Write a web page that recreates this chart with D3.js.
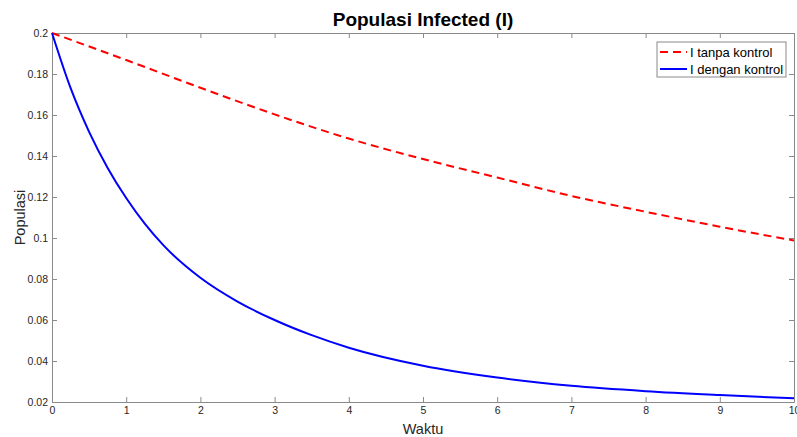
<!DOCTYPE html>
<meta charset="utf-8">
<script src="https://d3js.org/d3.v7.min.js"></script>
<style>
body { margin: 0; background: white; }
svg text { font-family: "Liberation Sans", Arial, sans-serif; }
.ax path, .ax line { stroke: #8a8a8a; }
.ax text { fill: #262626; font-size: 10.5px; }
</style>
<body>
<svg width="797" height="437" id="svg"></svg>
<script>
// data
var waktuTanpa = [0, 1, 2, 3, 4, 5, 6, 7, 8, 9, 10];
var iTanpa = [0.2, 0.1868, 0.1733, 0.1603, 0.1485, 0.1385, 0.1295, 0.1205, 0.1128, 0.1055, 0.0988];

var waktuDengan = [0, 0.25, 0.5, 0.75, 1, 1.25, 1.5, 2, 2.5, 3, 3.5, 4, 5, 6, 7, 8, 9, 10];
var iDengan = [0.2, 0.1732, 0.1518, 0.1342, 0.1195, 0.1070, 0.0965, 0.0806, 0.0690, 0.0600, 0.0526, 0.0465, 0.0377, 0.0319, 0.0279, 0.0253, 0.0234, 0.0218];

var xTicks = [0, 1, 2, 3, 4, 5, 6, 7, 8, 9, 10];
var yTicks = [0.02, 0.04, 0.06, 0.08, 0.1, 0.12, 0.14, 0.16, 0.18, 0.2];
var seriesNames = ["I tanpa kontrol", "I dengan kontrol"];

let svg = d3.select("#svg");
let margin = { top: 33, right: 3, bottom: 35, left: 52 };
let width = 797 - margin.left - margin.right;
let height = 437 - margin.top - margin.bottom;

let g = svg.append("g")
    .attr("transform", "translate(" + margin.left + "," + margin.top + ")");

let x = d3.scaleLinear().domain([0, 10]).range([0, width]);
let y = d3.scaleLinear().domain([0.02, 0.2]).range([height, 0]);

g.append("g").attr("class", "ax")
    .attr("transform", "translate(0," + height + ")")
    .call(d3.axisBottom(x).tickValues(xTicks).tickFormat(d3.format("d"))
        .tickSizeInner(-5).tickSizeOuter(0).tickPadding(5));
g.append("g").attr("class", "ax")
    .call(d3.axisTop(x).tickValues(xTicks).tickFormat("")
        .tickSizeInner(-5).tickSizeOuter(0));
g.append("g").attr("class", "ax")
    .call(d3.axisLeft(y).tickValues(yTicks).tickFormat(function(d) { return +d.toFixed(2); })
        .tickSizeInner(-5).tickSizeOuter(0).tickPadding(4));
g.append("g").attr("class", "ax")
    .attr("transform", "translate(" + width + ",0)")
    .call(d3.axisRight(y).tickValues(yTicks).tickFormat("")
        .tickSizeInner(-5).tickSizeOuter(0));

let line = d3.line().curve(d3.curveMonotoneX)
    .x(function(d) { return x(d[0]); })
    .y(function(d) { return y(d[1]); });

g.append("path")
    .datum(d3.zip(waktuTanpa, iTanpa))
    .attr("fill", "none")
    .attr("stroke", "#ff0000")
    .attr("stroke-width", 2)
    .attr("stroke-dasharray", "8,5")
    .attr("d", line);

g.append("path")
    .datum(d3.zip(waktuDengan, iDengan))
    .attr("fill", "none")
    .attr("stroke", "#0000ff")
    .attr("stroke-width", 2)
    .attr("d", line);

// title and labels
svg.append("text")
    .attr("x", margin.left + width / 2)
    .attr("y", 26)
    .attr("text-anchor", "middle")
    .style("font-size", "19px")
    .style("font-weight", "bold")
    .attr("fill", "#000")
    .text("Populasi Infected (I)");

svg.append("text")
    .attr("x", margin.left + width / 2)
    .attr("y", 434)
    .attr("text-anchor", "middle")
    .style("font-size", "14.5px")
    .attr("fill", "#262626")
    .text("Waktu");

svg.append("text")
    .attr("transform", "translate(25," + (margin.top + height / 2) + ") rotate(-90)")
    .attr("text-anchor", "middle")
    .style("font-size", "14.5px")
    .attr("fill", "#262626")
    .text("Populasi");

// legend
let legend = svg.append("g").attr("transform", "translate(657,42)");
legend.append("rect")
    .attr("width", 129).attr("height", 35)
    .attr("fill", "white").attr("stroke", "#8a8a8a");

let rows = legend.selectAll("g.row")
    .data(seriesNames)
    .enter().append("g")
    .attr("transform", function(d, i) { return "translate(0," + (10 + i * 17) + ")"; });

rows.append("line")
    .attr("x1", 3).attr("x2", 30)
    .attr("stroke", function(d, i) { return i === 0 ? "#ff0000" : "#0000ff"; })
    .attr("stroke-width", 2)
    .attr("stroke-dasharray", function(d, i) { return i === 0 ? "8,5" : null; });

rows.append("text")
    .attr("x", 33)
    .attr("dy", "0.35em")
    .style("font-size", "13px")
    .attr("fill", "#000")
    .text(function(d) { return d; });
</script>
</body>
